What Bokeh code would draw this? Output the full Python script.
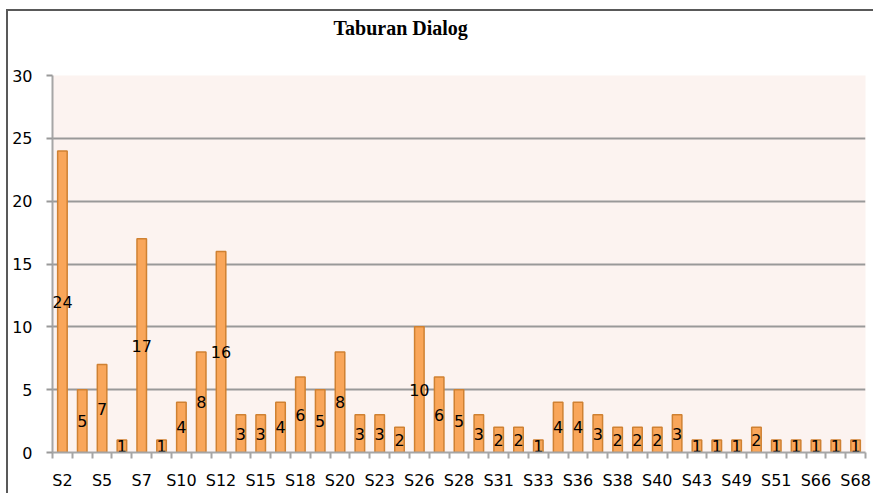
from bokeh.plotting import figure
from bokeh.models import ColumnDataSource, FixedTicker, Range1d, Title
from bokeh.embed import file_html
from bokeh.resources import INLINE

categories = ["S2", "S4", "S5", "S6", "S7", "S8", "S10", "S11", "S12", "S14",
              "S15", "S17", "S18", "S19", "S20", "S22", "S23", "S25", "S26", "S27",
              "S28", "S30", "S31", "S32", "S33", "S35", "S36", "S37", "S38", "S39",
              "S40", "S41", "S43", "S48", "S49", "S50", "S51", "S60", "S66", "S67", "S68"]
values = [24, 5, 7, 1, 17, 1, 4, 8, 16, 3,
          3, 4, 6, 5, 8, 3, 3, 2, 10, 6,
          5, 3, 2, 2, 1, 4, 4, 3, 2, 2,
          2, 3, 1, 1, 1, 2, 1, 1, 1, 1, 1]
y_ticks = [0, 5, 10, 15, 20, 25, 30]
title_text = "Taburan Dialog"

n = len(categories)
xs = list(range(n))
src = ColumnDataSource(dict(x=xs, top=values, mid=[v / 2 for v in values],
                            lab=[str(v) for v in values]))

p = figure(width=867, height=484, output_backend="svg", toolbar_location=None,
           title=None,
           x_range=Range1d(-0.5, n - 0.5), y_range=Range1d(0, 30),
           min_border_left=44, min_border_right=10, min_border_top=64,
           min_border_bottom=43,
           styles={"margin-left": "6px", "margin-top": "9px",
                   "border-left": "2px solid #595959", "border-top": "2px solid #595959"})
p.background_fill_color = "#FCF3F0"
p.border_fill_color = "white"
p.outline_line_color = None

# spacer between title and plot area (nearest the frame), then the title
p.add_layout(Title(text=" ", text_font="Liberation Serif", text_font_size="20px",
                   standoff=13), "above")
p.add_layout(Title(text=title_text, align="left", offset=281, standoff=0,
                   text_font="Liberation Serif", text_font_style="bold",
                   text_font_size="20px", text_color="black"), "above")

p.vbar(x="x", top="top", width=0.48, source=src, fill_color="#F9A65A",
       line_color="#CF8132", line_width=1.5)
p.text(x="x", y="mid", text="lab", source=src, text_align="center",
       text_baseline="middle", text_font_size="16px", text_color="black",
       text_font={"value": "DejaVu Sans"})

# x axis
p.xaxis.ticker = FixedTicker(ticks=xs[::2], minor_ticks=[i - 0.5 for i in range(n + 1)])
p.xaxis.major_label_overrides = {i: categories[i] for i in xs[::2]}
p.xaxis.major_tick_out = 0
p.xaxis.major_tick_in = 0
p.xaxis.minor_tick_out = 6
p.xaxis.minor_tick_in = 0
p.xaxis.minor_tick_line_color = "#A6A6A6"
p.xaxis.minor_tick_line_width = 2
p.xaxis.axis_line_color = "#A6A6A6"
p.xaxis.axis_line_width = 2
p.xaxis.major_label_standoff = 12
p.xgrid.grid_line_color = None

# y axis
p.yaxis.ticker = FixedTicker(ticks=y_ticks)
p.yaxis.minor_tick_line_color = None
p.yaxis.major_tick_out = 6
p.yaxis.major_tick_in = 0
p.yaxis.major_tick_line_color = "#999999"
p.yaxis.major_tick_line_width = 2
p.yaxis.axis_line_color = "#A6A6A6"
p.yaxis.axis_line_width = 2
p.yaxis.major_label_standoff = 14
p.ygrid.grid_line_color = "#999999"
p.ygrid.grid_line_width = 2

for ax in (p.xaxis, p.yaxis):
    ax.major_label_text_font = "DejaVu Sans"
    ax.major_label_text_font_size = "16px"
    ax.major_label_text_color = "black"

open("out.html", "w").write(file_html(p, INLINE))
